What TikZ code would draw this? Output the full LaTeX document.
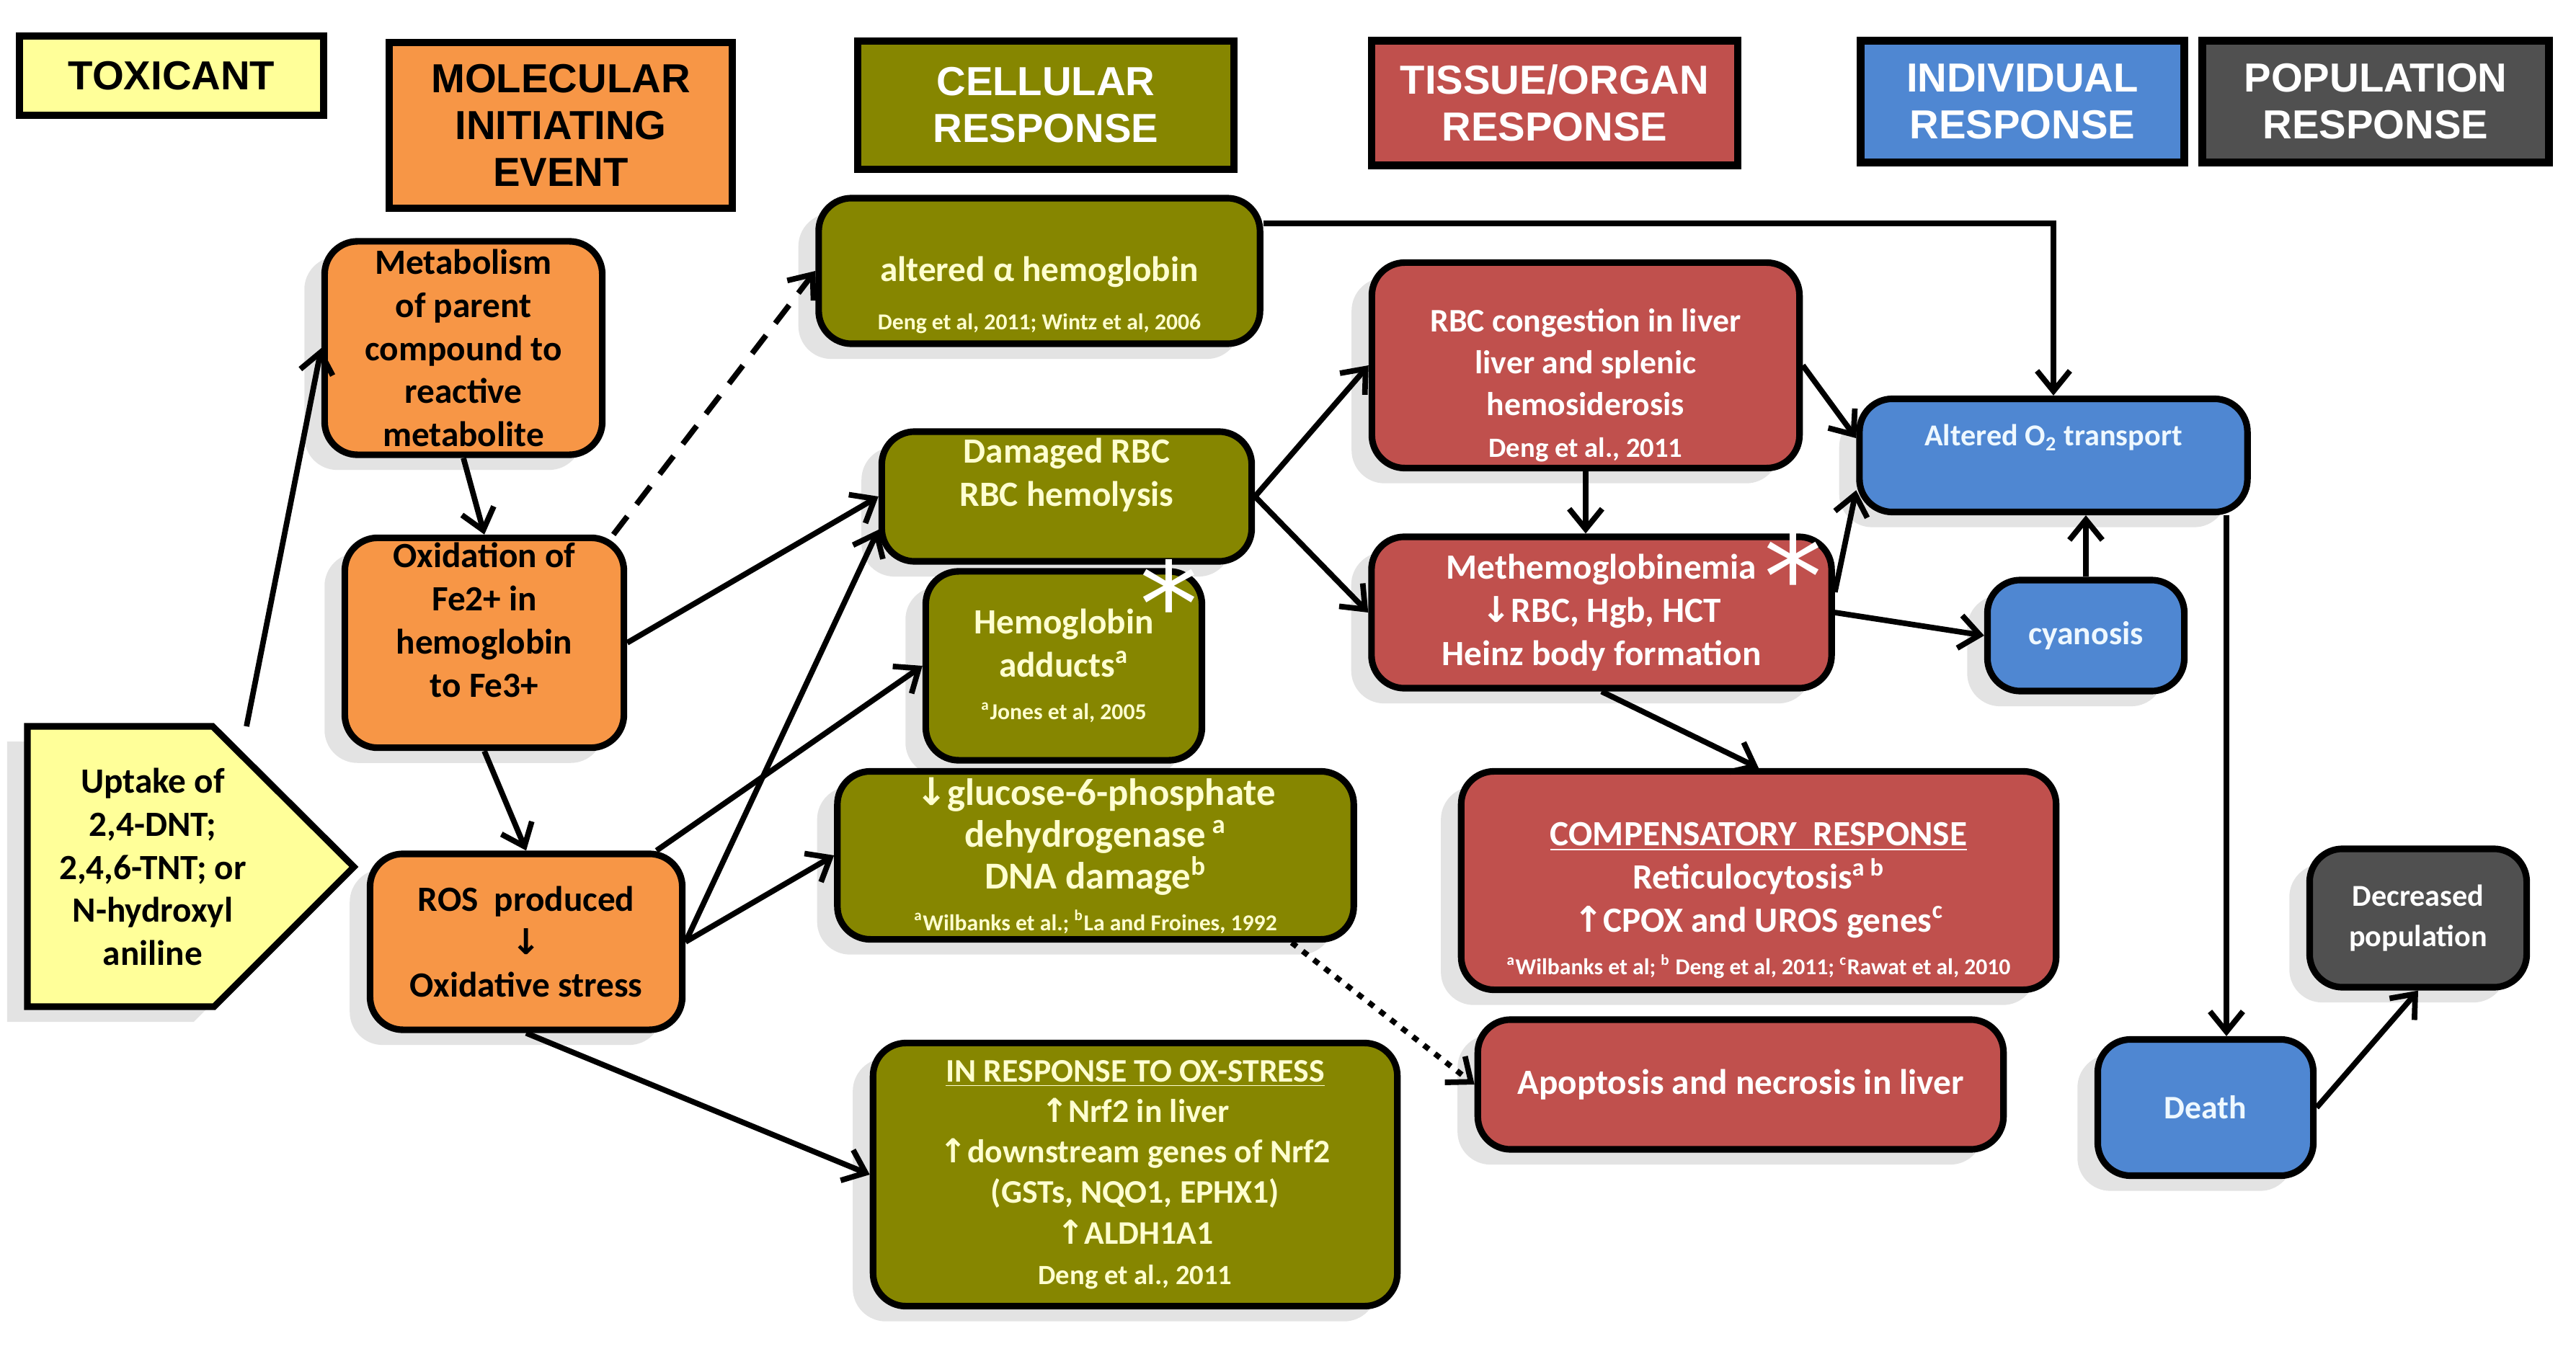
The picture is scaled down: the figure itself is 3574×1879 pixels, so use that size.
\documentclass[tikz,border=0pt]{standalone}
\usepackage{fontspec}
\setmainfont{Carlito}
\newfontfamily\hdrfont{Liberation Sans}
\newfontfamily\arrfont{DejaVu Sans}
\usetikzlibrary{arrows.meta,shadows}

\definecolor{toxC}{HTML}{FFFF99}
\definecolor{mieC}{HTML}{F79646}
\definecolor{celC}{HTML}{868600}
\definecolor{celT}{HTML}{FFFFD0}
\definecolor{tisC}{HTML}{C0504D}
\definecolor{indC}{HTML}{4F87D2}
\definecolor{indT}{HTML}{EEF8FF}
\definecolor{popC}{HTML}{505050}

\newcommand{\dnarr}{{\arrfont\char"2193}}
\newcommand{\uparr}{{\arrfont\char"2191}}
\newcommand{\refsz}{\fontsize{9}{12}\selectfont}
\newcommand{\refmd}{\fontsize{11}{14}\selectfont}
% struts that push a node's text down (\lowr) or up (\liftr)
\newcommand{\lowr}[1]{\rule{0pt}{#1}}
\newcommand{\liftr}[1]{\rule[-#1]{0pt}{0pt}}

\begin{document}
\begin{tikzpicture}[x=0.01cm, y=-0.01cm,
      hdr/.style={draw, line width=3pt, align=center, inner sep=2pt,
        font=\hdrfont\bfseries\fontsize{16}{18.5}\selectfont},
      box/.style={draw, line width=2.6pt, rounded corners=13pt, align=center,
        inner sep=2pt, font=\bfseries\fontsize{14}{17}\selectfont,
        drop shadow={shadow xshift=-8pt, shadow yshift=-6pt, fill=black!22}},
      orng/.style={box, fill=mieC, text=black},
      olv/.style={box, fill=celC, text=celT},
      rd/.style={box, fill=tisC, text=white},
      blu/.style={box, fill=indC, text=indT},
      gry/.style={box, fill=popC, text=white},
      astx/.style={inner sep=0pt, text=white, font=\arrfont\fontsize{46}{46}\selectfont},
      arr/.style={line width=2.2pt, -{Straight Barb[length=8pt,width=13pt]}},
    ]
    \useasboundingbox (0,0) rectangle (3574,1879);

    % column headers
    \node[hdr, fill=toxC, minimum width=4.22cm, minimum height=1.10cm] (hTox) at (238,105) {TOXICANT};
    \node[hdr, fill=mieC, minimum width=4.76cm, minimum height=2.30cm] (hMie) at (778,174) {MOLECULAR\\INITIATING\\EVENT};
    \node[hdr, fill=celC, text=white, minimum width=5.22cm, minimum height=1.78cm] (hCel) at (1451,146) {CELLULAR\\RESPONSE};
    \node[hdr, fill=tisC, text=white, minimum width=5.08cm, minimum height=1.73cm] (hTis) at (2157,143) {TISSUE/ORGAN\\RESPONSE};
    \node[hdr, fill=indC, text=white, minimum width=4.49cm, minimum height=1.69cm] (hInd) at (2806,141) {INDIVIDUAL\\RESPONSE};
    \node[hdr, fill=popC, text=white, minimum width=4.81cm, minimum height=1.69cm] (hPop) at (3296,141) {POPULATION\\RESPONSE};

    % toxicant
    \draw[line width=2.6pt, fill=toxC, drop shadow={shadow xshift=-8pt, shadow yshift=-6pt, fill=black!22}]
      (38,1008) -- (295,1008) -- (491,1203) -- (297,1397) -- (38,1397) -- cycle;
    \node[align=center, font=\bfseries\fontsize{14}{17}\selectfont] (uptake) at (212,1203)
      {Uptake of\\2,4-DNT;\\2,4,6-TNT; or\\N-hydroxyl\\aniline};
    \coordinate (upTop) at (342,1008);

    % molecular initiating event
    \node[orng, minimum width=3.85cm, minimum height=2.96cm] (meta) at (643,483)
      {Metabolism\\of parent\\compound to\\reactive\\metabolite};
    \node[orng, minimum width=3.87cm, minimum height=2.89cm] (oxid) at (672,892)
      {Oxidation of\\Fe2+ in\\hemoglobin\\to Fe3+\liftr{18pt}};
    \node[orng, minimum width=4.33cm, minimum height=2.44cm] (ros) at (730,1307)
      {ROS~ produced\\\dnarr\\Oxidative stress};

    % cellular response
    \node[olv, minimum width=6.12cm, minimum height=2.02cm, font=\bfseries\fontsize{14}{19}\selectfont] (alpha) at (1442,376)
      {\lowr{29pt}altered α hemoglobin\\{\refsz Deng et al, 2011; Wintz et al, 2006}};
    \node[olv, minimum width=5.13cm, minimum height=1.80cm] (dmg) at (1480,689)
      {Damaged RBC\\RBC hemolysis\liftr{19pt}};
    \node[olv, minimum width=3.83cm, minimum height=2.62cm] (adduct) at (1476,924)
      {Hemoglobin\\adducts\textsuperscript{a}\\{\refsz \textsuperscript{a}Jones et al, 2005}};
    \node[olv, minimum width=7.16cm, minimum height=2.33cm, font=\bfseries\fontsize{15}{16.5}\selectfont] (gluc) at (1520,1187)
      {\dnarr glucose-6-phosphate\\dehydrogenase\,\textsuperscript{a}\\DNA damage\textsuperscript{b}\\{\refsz \textsuperscript{a}Wilbanks et al.; \textsuperscript{b}La and Froines, 1992}};
    \node[olv, minimum width=7.27cm, minimum height=3.65cm, font=\bfseries\fontsize{13}{16}\selectfont] (oxst) at (1575,1630)
      {\underline{IN RESPONSE TO OX-STRESS}\\\uparr Nrf2 in liver\\\uparr downstream genes of Nrf2\\(GSTs, NQO1, EPHX1)\\\uparr ALDH1A1\\{\refmd Deng et al., 2011}};
    \node[astx] (adStar) at (1622,836) {*};

    % tissue/organ response
    \node[rd, minimum width=5.93cm, minimum height=2.85cm, font=\bfseries\fontsize{13}{16.5}\selectfont] (cong) at (2200,507)
      {\lowr{25pt}RBC congestion in liver\\liver and splenic\\hemosiderosis\\{\refmd Deng et al., 2011}};
    \node[rd, minimum width=6.38cm, minimum height=2.10cm] (methb) at (2222,850)
      {Methemoglobinemia\\\dnarr RBC, Hgb, HCT\\Heinz body formation};
    \node[rd, minimum width=8.25cm, minimum height=3.03cm] (comp) at (2440,1222)
      {\lowr{25pt}\underline{COMPENSATORY~ RESPONSE}\\Reticulocytosis\textsuperscript{a b}\\\uparr CPOX and UROS genes\textsuperscript{c}\\{\refsz \textsuperscript{a}Wilbanks et al; \textsuperscript{b} Deng et al, 2011; \textsuperscript{c}Rawat et al, 2010}};
    \node[rd, minimum width=7.29cm, minimum height=1.80cm] (apop) at (2415,1505)
      {Apoptosis and necrosis in liver};
    \node[astx] (mbStar) at (2488,798) {*};

    % individual response
    \node[blu, minimum width=5.38cm, minimum height=1.57cm, font=\bfseries\fontsize{12}{14}\selectfont] (o2) at (2849,632)
      {Altered O\textsubscript{2} transport\liftr{16pt}};
    \node[blu, minimum width=2.73cm, minimum height=1.54cm, font=\bfseries\fontsize{13}{15}\selectfont] (cyan) at (2894,882) {cyanosis};
    \node[blu, minimum width=2.99cm, minimum height=1.89cm, font=\bfseries\fontsize{13}{15}\selectfont] (death) at (3060,1537) {Death};

    % population response
    \node[gry, minimum width=3.01cm, minimum height=1.92cm, font=\bfseries\fontsize{12}{16}\selectfont] (decpop) at (3355,1274)
      {Decreased\\population};

    % connectors
    \draw[arr] (upTop) -- (meta.west);
    \draw[arr] (meta.south) -- (oxid.north);
    \draw[arr] (oxid.south) -- (ros.north);
    \draw[arr, dash pattern=on 9pt off 6pt] (oxid.40) -- (alpha.west);
    \draw[arr] (oxid.east) -- (dmg.west);
    \draw[arr] (ros.35) -- (adduct.west);
    \draw[arr] (ros.east) -- (dmg.190);
    \draw[arr] (ros.east) -- (gluc.west);
    \draw[arr] (ros.south) -- (oxst.west);
    \draw[arr] (dmg.east) -- (cong.west);
    \draw[arr] (dmg.east) -- (methb.west);
    \draw[arr] (alpha.12) -| (o2.north);
    \draw[arr] (cong.south) -- (cong.south |- methb.north);
    \draw[arr] (cong.east) -- (o2.175);
    \draw[arr] (methb.5) -- (o2.190);
    \draw[arr] (methb.east) -- (cyan.west);
    \draw[arr] (cyan.north) -- (cyan.north |- o2.south);
    \coordinate (dTop) at ([xshift=0.29cm]death.north);
    \draw[arr] (dTop |- o2.south) -- (dTop);
    \draw[arr] (methb.south) -- (comp.north);
    \draw[arr, dash pattern=on 2.5pt off 3pt] (gluc.-24) -- (apop.west);
    \draw[arr] (death.east) -- (decpop.south);
  \end{tikzpicture}
\end{document}
